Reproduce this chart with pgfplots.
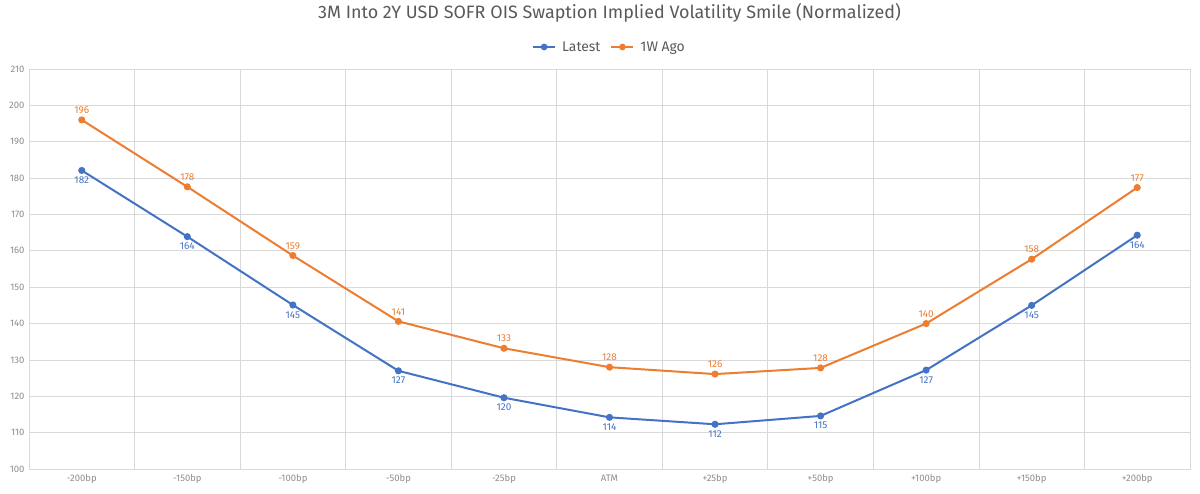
\documentclass[border=0pt]{standalone}
\usepackage{pgfplots}
\pgfplotsset{compat=1.18}
\usepackage{fontspec}
\setmainfont{Fira Sans}
\definecolor{cblue}{HTML}{4472C4}
\definecolor{corange}{HTML}{ED7D31}
\definecolor{cgrid}{HTML}{D9D9D9}
\definecolor{ctick}{HTML}{8C8C8C}
\definecolor{ctitle}{HTML}{595959}
\begin{document}
\begin{tikzpicture}
\begin{axis}[
  scale only axis,
  width=1161bp, height=400bp,
  xmin=-0.5, xmax=10.5,
  ymin=100, ymax=210,
  xtick={0,...,10},
  xticklabels={-200bp,-150bp,-100bp,-50bp,-25bp,ATM,+25bp,+50bp,+100bp,+150bp,+200bp},
  minor xtick={0.5,1.5,...,9.5},
  ytick={100,110,...,210},
  ymajorgrids, xminorgrids,
  grid style={cgrid, line width=0.8bp},
  minor grid style={cgrid, line width=0.8bp},
  axis line style={cgrid, line width=0.8bp},
  major tick length=0pt, minor tick length=0pt,
  tick style={draw=none},
  ticklabel style={font=\fontsize{9.5}{11}\selectfont, text=ctick},
  xticklabel style={yshift=-2bp},
  yticklabel style={xshift=-1bp},
  /pgf/number format/assume math mode=true,
  title={3M Into 2Y USD SOFR OIS Swaption Implied Volatility Smile (Normalized)},
  title style={at={(0.5,1)}, anchor=center, yshift=50bp, font=\fontsize{18}{20}\selectfont, text=ctitle},
  legend style={at={(0.5,1)}, anchor=center, yshift=22bp, draw=none, fill=none,
    font=\fontsize{14}{16}\selectfont, text=ctitle, column sep=4bp,
    /tikz/every even column/.append style={column sep=8bp}},
  legend columns=2,
  legend image code/.code={\draw[#1, line width=2bp] (0bp,0bp) -- (22bp,0bp); \fill[#1] (11bp,0bp) circle (2.3bp);},
  nodes near coords={\pgfmathprintnumber[fixed,precision=0]{\pgfplotspointmeta}},
  every node near coord/.append style={font=\fontsize{10}{11}\selectfont},
  clip=false,
]
\addplot[cblue, line width=2bp, mark=*, mark size=2.5bp,
  every node near coord/.append style={text=cblue, anchor=north, yshift=-2bp}]
  coordinates {(0,182.1) (1,163.9) (2,145.1) (3,127.0) (4,119.6) (5,114.2) (6,112.3) (7,114.6) (8,127.2) (9,145.0) (10,164.3)};
\addlegendentry{Latest}
\addplot[corange, line width=2bp, mark=*, mark size=2.5bp,
  every node near coord/.append style={text=corange, anchor=south, yshift=2bp}]
  coordinates {(0,196.0) (1,177.6) (2,158.7) (3,140.6) (4,133.2) (5,128.0) (6,126.1) (7,127.8) (8,140.0) (9,157.7) (10,177.4)};
\addlegendentry{1W Ago}
\end{axis}
\pgfresetboundingbox
\path[use as bounding box] ([shift={(-29bp,-24bp)}]current axis.south west) rectangle ([shift={(10bp,69bp)}]current axis.north east);
\end{tikzpicture}
\end{document}
